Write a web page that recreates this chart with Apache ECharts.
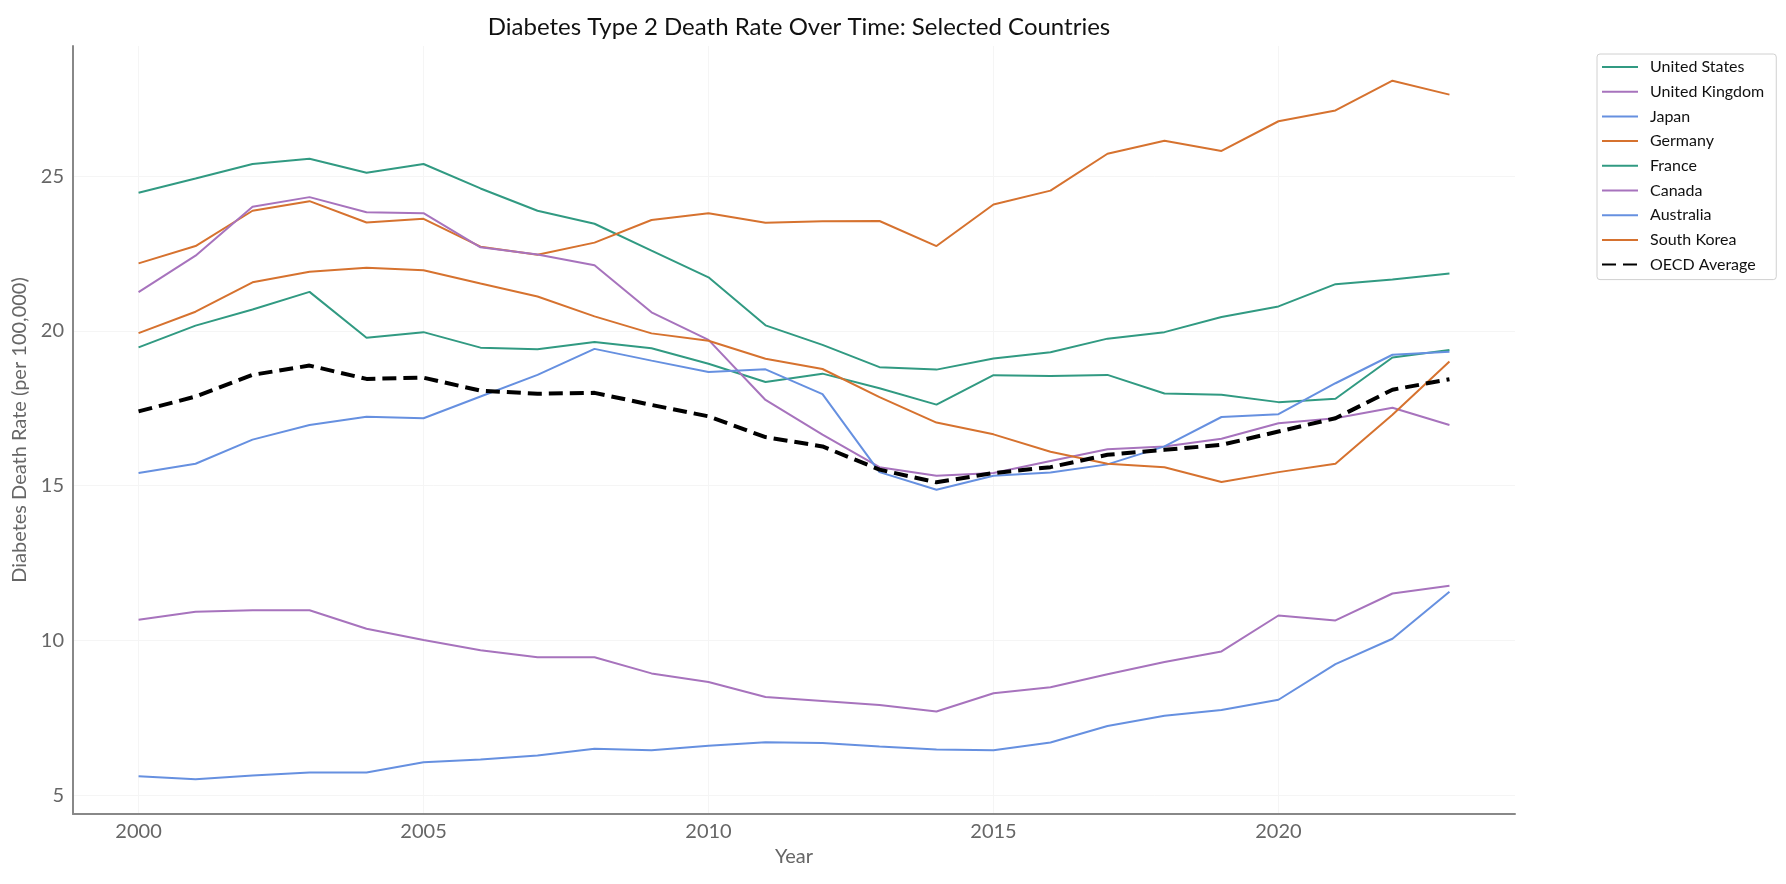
<!DOCTYPE html>
<html>
<head>
<meta charset="utf-8">
<script src="https://cdn.jsdelivr.net/npm/echarts@6/dist/echarts.min.js"></script>
<style>
html,body{margin:0;padding:0;background:#fff;}
#chart{width:1786px;height:884px;}
</style>
</head>
<body>
<div id="chart"></div>
<script>
const years = [2000,2001,2002,2003,2004,2005,2006,2007,2008,2009,2010,2011,2012,2013,2014,2015,2016,2017,2018,2019,2020,2021,2022,2023];
const xTicks = [2000, 2005, 2010, 2015, 2020];
const yTicks = [5, 10, 15, 20, 25];

const unitedStates = [24.46,24.92,25.39,25.56,25.11,25.39,24.6,23.88,23.46,22.59,21.73,20.18,19.55,18.83,18.75,19.11,19.31,19.75,19.96,20.45,20.79,21.51,21.66,21.85];
const unitedKingdom = [10.67,10.93,10.98,10.98,10.38,10.02,9.69,9.46,9.46,8.94,8.66,8.18,8.05,7.92,7.71,8.30,8.49,8.91,9.31,9.65,10.81,10.65,11.52,11.77];
const japan = [5.62,5.52,5.64,5.74,5.74,6.07,6.16,6.29,6.51,6.46,6.6,6.72,6.69,6.58,6.48,6.46,6.71,7.24,7.57,7.76,8.09,9.24,10.06,11.58];
const germany = [22.18,22.74,23.88,24.19,23.5,23.62,22.72,22.46,22.85,23.58,23.8,23.49,23.54,23.55,22.74,24.08,24.53,25.72,26.14,25.81,26.77,27.12,28.08,27.63];
const france = [19.47,20.17,20.69,21.26,19.78,19.96,19.46,19.41,19.64,19.44,18.94,18.35,18.62,18.15,17.62,18.57,18.54,18.58,17.98,17.94,17.7,17.81,19.14,19.38];
const canada = [21.25,22.43,24.01,24.32,23.83,23.8,22.7,22.47,22.12,20.6,19.71,17.77,16.65,15.6,15.32,15.41,15.8,16.18,16.27,16.52,17.02,17.18,17.52,16.96];
const australia = [15.41,15.71,16.49,16.96,17.23,17.18,17.88,18.58,19.42,19.04,18.67,18.76,17.96,15.44,14.87,15.32,15.43,15.69,16.27,17.22,17.31,18.31,19.23,19.33];
const southKorea = [19.93,20.62,21.57,21.91,22.04,21.96,21.53,21.11,20.47,19.92,19.68,19.1,18.77,17.86,17.04,16.66,16.1,15.71,15.6,15.12,15.44,15.71,17.29,19.01];
const oecdAverage = [17.4,17.88,18.58,18.88,18.45,18.49,18.07,17.97,18.0,17.61,17.24,16.57,16.27,15.52,15.11,15.41,15.6,16.0,16.16,16.32,16.75,17.18,18.1,18.44];

const countryNames = ['United States','United Kingdom','Japan','Germany','France','Canada','Australia','South Korea'];
const countryValues = [unitedStates, unitedKingdom, japan, germany, france, canada, australia, southKorea];
const colors = ['#319a82','#a773bd','#6690e0','#d6722f','#319a82','#a773bd','#6690e0','#d6722f'];

const FONT = 'Lato';

function pairs(vals){ return years.map((y,i)=>[y, vals[i]]); }

const series = countryNames.map((name, i) => ({
  name: name,
  type: 'line',
  data: pairs(countryValues[i]),
  symbol: 'none',
  lineStyle: { color: colors[i], width: 2 },
  itemStyle: { color: colors[i] },
  z: 2
}));
series.push({
  name: 'OECD Average',
  type: 'line',
  data: pairs(oecdAverage),
  symbol: 'none',
  lineStyle: { color: '#000', width: 4, type: [14, 7] },
  itemStyle: { color: '#000' },
  z: 3
});

const chart = echarts.init(document.getElementById('chart'), null, {renderer: 'canvas'});
chart.setOption({
  animation: false,
  backgroundColor: '#fff',
  title: {
    text: 'Diabetes Type 2 Death Rate Over Time: Selected Countries',
    left: 794, textAlign: 'center', top: 10,
    textStyle: { fontFamily: FONT, fontSize: 24, fontWeight: 'normal', color: '#111' }
  },
  legend: {
    orient: 'vertical',
    left: 1597, top: 54,
    padding: [4, 12, 6, 4],
    itemWidth: 36, itemHeight: 4, itemGap: 6.7,
    itemStyle: { opacity: 0 },
    borderColor: '#d0d0d0', borderWidth: 1, borderRadius: 3,
    backgroundColor: '#fff',
    textStyle: { fontFamily: FONT, fontSize: 16, color: '#111', lineHeight: 18, padding: [0,0,0,7] },
    data: countryNames.concat(['OECD Average'])
  },
  grid: { left: 73, right: 271, top: 46, bottom: 70, containLabel: false },
  xAxis: {
    type: 'value', min: 1998.85, max: 2024.15,
    name: 'Year', nameLocation: 'middle', nameGap: 33,
    nameTextStyle: { fontFamily: FONT, fontSize: 20, color: '#666' },
    axisLine: { show: true, lineStyle: { color: '#888', width: 2 } },
    axisTick: { show: false, customValues: xTicks },
    axisLabel: { customValues: xTicks, fontFamily: FONT, fontSize: 20, color: '#666', margin: 8, formatter: v => String(v) },
    splitLine: { show: true, lineStyle: { color: '#f5f5f5', width: 1 } }
  },
  yAxis: {
    type: 'value', min: 4.4, max: 29.2,
    name: 'Diabetes Death Rate (per 100,000)', nameLocation: 'middle', nameGap: 41,
    nameTextStyle: { fontFamily: FONT, fontSize: 20, color: '#666' },
    axisLine: { show: true, lineStyle: { color: '#888', width: 2 } },
    axisTick: { show: false, customValues: yTicks },
    axisLabel: { customValues: yTicks, fontFamily: FONT, fontSize: 20, color: '#666', margin: 9 },
    splitLine: { show: true, lineStyle: { color: '#f5f5f5', width: 1 } }
  },
  series: series
});
</script>
</body>
</html>
